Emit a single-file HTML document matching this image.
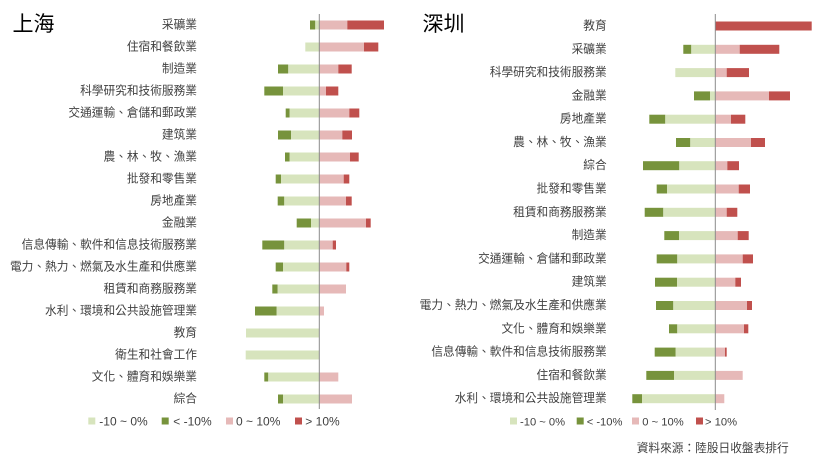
<!DOCTYPE html>
<html><head><meta charset="utf-8"><style>
html,body{margin:0;padding:0;background:#fff;width:820px;height:461px;overflow:hidden}
svg{display:block}
.lb{font-family:"Liberation Sans","Noto Sans CJK TC",sans-serif;font-size:11.7px;fill:#404040}
.tt{font-family:"Liberation Sans","Noto Sans CJK TC",sans-serif;font-size:21px;fill:#000;font-weight:normal}
.lg{font-family:"Liberation Sans","Noto Sans CJK TC",sans-serif;font-size:12px;fill:#404040}
.lg2{font-family:"Liberation Sans","Noto Sans CJK TC",sans-serif;font-size:11.2px;fill:#404040}
.a{fill:#d7e4bd}.b{fill:#77933c}.c{fill:#e6b9b8}.d{fill:#c0504d}
</style></head><body>
<svg width="820" height="461" viewBox="0 0 820 461" xmlns="http://www.w3.org/2000/svg">
<text class="tt" x="12.5" y="31">上海</text>
<text class="tt" x="422.5" y="31">深圳</text>

<!-- LEFT labels -->
<g class="lb" text-anchor="end" dominant-baseline="central">
<text x="197" y="25">采礦業</text>
<text x="197" y="47">住宿和餐飲業</text>
<text x="197" y="69">制造業</text>
<text x="197" y="91">科學研究和技術服務業</text>
<text x="197" y="113">交通運輸、倉儲和郵政業</text>
<text x="197" y="135">建筑業</text>
<text x="197" y="157">農、林、牧、漁業</text>
<text x="197" y="179">批發和零售業</text>
<text x="197" y="201">房地產業</text>
<text x="197" y="223">金融業</text>
<text x="197" y="245">信息傳輸、軟件和信息技術服務業</text>
<text x="197" y="267">電力、熱力、燃氣及水生產和供應業</text>
<text x="197" y="289">租賃和商務服務業</text>
<text x="197" y="311">水利、環境和公共設施管理業</text>
<text x="197" y="333">教育</text>
<text x="197" y="355">衛生和社會工作</text>
<text x="197" y="377">文化、體育和娛樂業</text>
<text x="197" y="399">綜合</text>
</g>

<!-- LEFT bars -->
<g>
<rect class="b" x="310" y="20.5" width="5.3" height="9"/><rect class="a" x="315.3" y="20.5" width="4" height="9"/><rect class="c" x="319.3" y="20.5" width="28" height="9"/><rect class="d" x="347.3" y="20.5" width="36.7" height="9"/>
<rect class="a" x="305.3" y="42.5" width="14" height="9"/><rect class="c" x="319.3" y="42.5" width="44.7" height="9"/><rect class="d" x="364" y="42.5" width="14.3" height="9"/>
<rect class="b" x="278" y="64.5" width="10.3" height="9"/><rect class="a" x="288.3" y="64.5" width="31" height="9"/><rect class="c" x="319.3" y="64.5" width="19" height="9"/><rect class="d" x="338.3" y="64.5" width="13.4" height="9"/>
<rect class="b" x="264.3" y="86.5" width="18.7" height="9"/><rect class="a" x="283" y="86.5" width="36.3" height="9"/><rect class="c" x="319.3" y="86.5" width="6.7" height="9"/><rect class="d" x="326" y="86.5" width="12.3" height="9"/>
<rect class="b" x="285.7" y="108.5" width="4" height="9"/><rect class="a" x="289.7" y="108.5" width="29.6" height="9"/><rect class="c" x="319.3" y="108.5" width="30" height="9"/><rect class="d" x="349.3" y="108.5" width="10" height="9"/>
<rect class="b" x="278" y="130.5" width="13" height="9"/><rect class="a" x="291" y="130.5" width="28.3" height="9"/><rect class="c" x="319.3" y="130.5" width="23" height="9"/><rect class="d" x="342.3" y="130.5" width="9.7" height="9"/>
<rect class="b" x="285" y="152.5" width="4.7" height="9"/><rect class="a" x="289.7" y="152.5" width="29.6" height="9"/><rect class="c" x="319.3" y="152.5" width="30.7" height="9"/><rect class="d" x="350" y="152.5" width="8.7" height="9"/>
<rect class="b" x="275.7" y="174.5" width="5.3" height="9"/><rect class="a" x="281" y="174.5" width="38.3" height="9"/><rect class="c" x="319.3" y="174.5" width="24.4" height="9"/><rect class="d" x="343.7" y="174.5" width="5.6" height="9"/>
<rect class="b" x="277.7" y="196.5" width="6.6" height="9"/><rect class="a" x="284.3" y="196.5" width="35" height="9"/><rect class="c" x="319.3" y="196.5" width="26.7" height="9"/><rect class="d" x="346" y="196.5" width="5.7" height="9"/>
<rect class="b" x="296.7" y="218.5" width="14.3" height="9"/><rect class="a" x="311" y="218.5" width="8.3" height="9"/><rect class="c" x="319.3" y="218.5" width="46.7" height="9"/><rect class="d" x="366" y="218.5" width="4.7" height="9"/>
<rect class="b" x="262.3" y="240.5" width="22" height="9"/><rect class="a" x="284.3" y="240.5" width="35" height="9"/><rect class="c" x="319.3" y="240.5" width="13.4" height="9"/><rect class="d" x="332.7" y="240.5" width="3.3" height="9"/>
<rect class="b" x="275.7" y="262.5" width="7.3" height="9"/><rect class="a" x="283" y="262.5" width="36.3" height="9"/><rect class="c" x="319.3" y="262.5" width="27" height="9"/><rect class="d" x="346.3" y="262.5" width="3" height="9"/>
<rect class="b" x="272.3" y="284.5" width="5.4" height="9"/><rect class="a" x="277.7" y="284.5" width="41.6" height="9"/><rect class="c" x="319.3" y="284.5" width="26.7" height="9"/>
<rect class="b" x="255" y="306.5" width="21.7" height="9"/><rect class="a" x="276.7" y="306.5" width="42.6" height="9"/><rect class="c" x="319.3" y="306.5" width="4.7" height="9"/>
<rect class="a" x="246" y="328.5" width="73.3" height="9"/>
<rect class="a" x="245.7" y="350.5" width="73.6" height="9"/>
<rect class="b" x="264.3" y="372.5" width="4" height="9"/><rect class="a" x="268.3" y="372.5" width="51" height="9"/><rect class="c" x="319.3" y="372.5" width="19" height="9"/>
<rect class="b" x="278" y="394.5" width="5" height="9"/><rect class="a" x="283" y="394.5" width="36.3" height="9"/><rect class="c" x="319.3" y="394.5" width="32.7" height="9"/>
</g>
<line x1="319.3" y1="14" x2="319.3" y2="409" stroke="#8a8a8a" stroke-width="1"/>

<!-- LEFT legend -->
<rect class="a" x="88.3" y="417.5" width="7" height="7"/>
<text class="lg" x="99.3" y="425.5">-10 ~ 0%</text>
<rect class="b" x="161.7" y="417.5" width="7" height="7"/>
<text class="lg" x="173.3" y="425.5">&lt; -10%</text>
<rect class="c" x="226" y="417.5" width="7" height="7"/>
<text class="lg" x="236" y="425.5">0 ~ 10%</text>
<rect class="d" x="295" y="417.5" width="7" height="7"/>
<text class="lg" x="305.3" y="425.5">&gt; 10%</text>

<!-- RIGHT labels -->
<g class="lb" text-anchor="end" dominant-baseline="central">
<text x="606.7" y="26">教育</text>
<text x="606.7" y="49.3">采礦業</text>
<text x="606.7" y="72.6">科學研究和技術服務業</text>
<text x="606.7" y="95.9">金融業</text>
<text x="606.7" y="119.2">房地產業</text>
<text x="606.7" y="142.5">農、林、牧、漁業</text>
<text x="606.7" y="165.7">綜合</text>
<text x="606.7" y="189">批發和零售業</text>
<text x="606.7" y="212.3">租賃和商務服務業</text>
<text x="606.7" y="235.6">制造業</text>
<text x="606.7" y="258.9">交通運輸、倉儲和郵政業</text>
<text x="606.7" y="282.2">建筑業</text>
<text x="606.7" y="305.5">電力、熱力、燃氣及水生產和供應業</text>
<text x="606.7" y="328.8">文化、體育和娛樂業</text>
<text x="606.7" y="352.1">信息傳輸、軟件和信息技術服務業</text>
<text x="606.7" y="375.4">住宿和餐飲業</text>
<text x="606.7" y="398.7">水利、環境和公共設施管理業</text>
</g>

<!-- RIGHT bars -->
<g>
<rect class="d" x="715.3" y="21.5" width="96.4" height="9"/>
<rect class="b" x="683.3" y="44.8" width="8" height="9"/><rect class="a" x="691.3" y="44.8" width="24" height="9"/><rect class="c" x="715.3" y="44.8" width="24.4" height="9"/><rect class="d" x="739.7" y="44.8" width="39.6" height="9"/>
<rect class="a" x="675.3" y="68.1" width="40" height="9"/><rect class="c" x="715.3" y="68.1" width="11.4" height="9"/><rect class="d" x="726.7" y="68.1" width="22.3" height="9"/>
<rect class="b" x="694" y="91.4" width="16" height="9"/><rect class="a" x="710" y="91.4" width="5.3" height="9"/><rect class="c" x="715.3" y="91.4" width="53.7" height="9"/><rect class="d" x="769" y="91.4" width="21" height="9"/>
<rect class="b" x="649.3" y="114.7" width="16" height="9"/><rect class="a" x="665.3" y="114.7" width="50" height="9"/><rect class="c" x="715.3" y="114.7" width="15.7" height="9"/><rect class="d" x="731" y="114.7" width="14.3" height="9"/>
<rect class="b" x="676" y="138" width="14.3" height="9"/><rect class="a" x="690.3" y="138" width="25" height="9"/><rect class="c" x="715.3" y="138" width="35.7" height="9"/><rect class="d" x="751" y="138" width="14" height="9"/>
<rect class="b" x="643" y="161.2" width="36.3" height="9"/><rect class="a" x="679.3" y="161.2" width="36" height="9"/><rect class="c" x="715.3" y="161.2" width="12" height="9"/><rect class="d" x="727.3" y="161.2" width="11.7" height="9"/>
<rect class="b" x="656.7" y="184.5" width="10.3" height="9"/><rect class="a" x="667" y="184.5" width="48.3" height="9"/><rect class="c" x="715.3" y="184.5" width="23.4" height="9"/><rect class="d" x="738.7" y="184.5" width="11.3" height="9"/>
<rect class="b" x="644.7" y="207.8" width="18.6" height="9"/><rect class="a" x="663.3" y="207.8" width="52" height="9"/><rect class="c" x="715.3" y="207.8" width="11.4" height="9"/><rect class="d" x="726.7" y="207.8" width="10.6" height="9"/>
<rect class="b" x="664.3" y="231.1" width="14.7" height="9"/><rect class="a" x="679" y="231.1" width="36.3" height="9"/><rect class="c" x="715.3" y="231.1" width="22.4" height="9"/><rect class="d" x="737.7" y="231.1" width="11" height="9"/>
<rect class="b" x="656.7" y="254.4" width="20.6" height="9"/><rect class="a" x="677.3" y="254.4" width="38" height="9"/><rect class="c" x="715.3" y="254.4" width="27.4" height="9"/><rect class="d" x="742.7" y="254.4" width="10.3" height="9"/>
<rect class="b" x="655" y="277.7" width="22" height="9"/><rect class="a" x="677" y="277.7" width="38.3" height="9"/><rect class="c" x="715.3" y="277.7" width="20" height="9"/><rect class="d" x="735.3" y="277.7" width="5.7" height="9"/>
<rect class="b" x="656" y="301" width="17.3" height="9"/><rect class="a" x="673.3" y="301" width="42" height="9"/><rect class="c" x="715.3" y="301" width="31.7" height="9"/><rect class="d" x="747" y="301" width="5" height="9"/>
<rect class="b" x="669" y="324.3" width="8.3" height="9"/><rect class="a" x="677.3" y="324.3" width="38" height="9"/><rect class="c" x="715.3" y="324.3" width="28.7" height="9"/><rect class="d" x="744" y="324.3" width="4.3" height="9"/>
<rect class="b" x="654.7" y="347.6" width="21" height="9"/><rect class="a" x="675.7" y="347.6" width="39.6" height="9"/><rect class="c" x="715.3" y="347.6" width="9.7" height="9"/><rect class="d" x="725" y="347.6" width="1.7" height="9"/>
<rect class="b" x="646.3" y="370.9" width="27.7" height="9"/><rect class="a" x="674" y="370.9" width="41.3" height="9"/><rect class="c" x="715.3" y="370.9" width="27.4" height="9"/>
<rect class="b" x="632.3" y="394.2" width="9.7" height="9"/><rect class="a" x="642" y="394.2" width="73.3" height="9"/><rect class="c" x="715.3" y="394.2" width="9" height="9"/>
</g>
<line x1="715.3" y1="14" x2="715.3" y2="410" stroke="#8a8a8a" stroke-width="1"/>

<!-- RIGHT legend -->
<rect class="a" x="510" y="417.5" width="7" height="7"/>
<text class="lg2" x="520" y="425.3">-10 ~ 0%</text>
<rect class="b" x="576.7" y="417.5" width="7" height="7"/>
<text class="lg2" x="586.7" y="425.3">&lt; -10%</text>
<rect class="c" x="632" y="417.5" width="7" height="7"/>
<text class="lg2" x="642.3" y="425.3">0 ~ 10%</text>
<rect class="d" x="696" y="417.5" width="7" height="7"/>
<text class="lg2" x="705" y="425.3">&gt; 10%</text>

<text class="lb" x="636.7" y="448.3" dominant-baseline="central">資料來源：陸股日收盤表排行</text>
</svg>
</body></html>
